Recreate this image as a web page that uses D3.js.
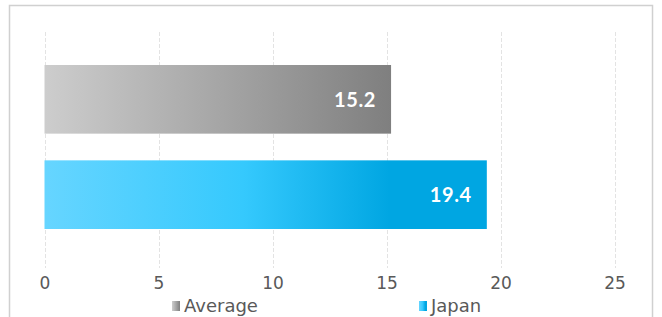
<!DOCTYPE html>
<html>
<head>
<meta charset="utf-8">
<script src="https://cdn.jsdelivr.net/npm/d3@7"></script>
<style>
  body { margin: 0; background: #fff; }
  text { font-family: "DejaVu Sans", sans-serif; }
</style>
</head>
<body>
<div id="chart"></div>
<script>
// chart values
const categories = ['Average', 'Japan'];
const values = [15.2, 19.4];
const ticks = [0, 5, 10, 15, 20, 25];

const width = 662, height = 317;

const svg = d3.select('#chart').append('svg')
    .attr('width', width)
    .attr('height', height);

const defs = svg.append('defs');

// gradients, one per series
const grads = {
    Average: [['0%', '#cdcdcd'], ['100%', '#7f7f7f']],
    Japan: [['0%', '#66d5ff'], ['45%', '#35c9fd'], ['78%', '#00a6e2'], ['100%', '#00a6e2']]
};
Object.keys(grads).forEach(function(k) {
    const g = defs.append('linearGradient')
        .attr('id', 'grad-' + k)
        .attr('x1', '0%').attr('x2', '100%')
        .attr('y1', '0%').attr('y2', '0%');
    grads[k].forEach(function(s) {
        g.append('stop').attr('offset', s[0]).attr('stop-color', s[1]);
    });
});

// outer frame
svg.append('rect')
    .attr('x', 9.5).attr('y', 5.5)
    .attr('width', 643).attr('height', 330)
    .attr('fill', 'none')
    .attr('stroke', '#d0d0d0')
    .attr('stroke-width', 1.5);

const x = d3.scaleLinear()
    .domain([0, 25])
    .range([44.5, 614.5]);

const y = d3.scaleBand()
    .domain(categories)
    .range([65, 229])
    .paddingInner(0.28)
    .paddingOuter(0);

// gridlines
svg.append('g')
    .selectAll('line')
    .data(ticks)
    .enter().append('line')
    .attr('x1', function(d) { return Math.round(x(d)) + 0.5; })
    .attr('x2', function(d) { return Math.round(x(d)) + 0.5; })
    .attr('y1', 32)
    .attr('y2', 268)
    .attr('stroke', '#e3e3e3')
    .attr('stroke-width', 1)
    .attr('stroke-dasharray', '4,2');

// bars
svg.append('g')
    .selectAll('rect')
    .data(categories)
    .enter().append('rect')
    .attr('x', x(0))
    .attr('y', function(d) { return y(d); })
    .attr('width', function(d, i) { return x(values[i]) - x(0); })
    .attr('height', y.bandwidth())
    .attr('fill', function(d) { return 'url(#grad-' + d + ')'; });

// value labels
svg.append('g')
    .selectAll('text')
    .data(categories)
    .enter().append('text')
    .attr('x', function(d, i) { return x(values[i]) - 15; })
    .attr('y', function(d) { return y(d) + y.bandwidth() / 2; })
    .attr('dy', '0.36em')
    .attr('text-anchor', 'end')
    .attr('fill', '#fff')
    .attr('font-weight', 'bold')
    .attr('font-size', 20)
    .attr('letter-spacing', 0.6)
    .style('font-family', 'Lato, sans-serif')
    .text(function(d, i) { return values[i].toFixed(1); });

// x axis labels
const axis = d3.axisBottom(x).tickValues(ticks).tickSize(0).tickPadding(0);
const ax = svg.append('g')
    .attr('transform', 'translate(0,277)')
    .call(axis);
ax.select('.domain').remove();
ax.selectAll('text')
    .attr('fill', '#595959')
    .attr('font-size', 17)
    .attr('font-family', '"DejaVu Sans", sans-serif')
    .attr('dy', '0.71em');

// legend
const legendX = [172, 419];
const lg = svg.append('g')
    .selectAll('g')
    .data(categories)
    .enter().append('g')
    .attr('transform', function(d, i) { return 'translate(' + legendX[i] + ',301)'; });
lg.append('rect')
    .attr('width', 8).attr('height', 10)
    .attr('fill', function(d) { return 'url(#grad-' + d + ')'; });
lg.append('text')
    .attr('x', 12)
    .attr('y', 5)
    .attr('dy', '0.36em')
    .attr('fill', '#595959')
    .attr('font-size', 18)
    .text(function(d) { return d; });
</script>
</body>
</html>
